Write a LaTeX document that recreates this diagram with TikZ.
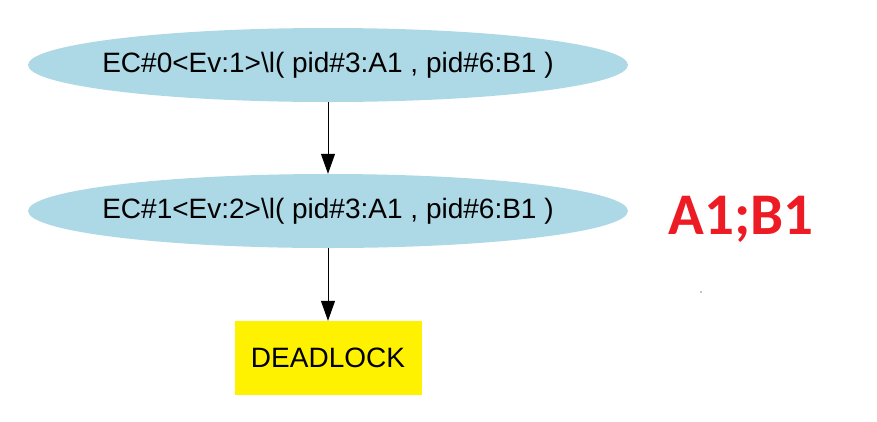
\documentclass[tikz,border=0pt]{standalone}
\usepackage{fontspec}
\setmainfont{Liberation Sans}
\newfontfamily\carlito{Carlito}
\usetikzlibrary{shapes.geometric,arrows.meta}
\definecolor{ecblue}{HTML}{ADD8E6}
\definecolor{lblred}{HTML}{ED1C24}
\tikzset{
  ecnode/.style={ellipse, fill=ecblue, minimum width=600pt, minimum height=74pt, inner sep=0pt, label={[font=\fontsize{28}{32}\selectfont]center:#1}},
  dlnode/.style={rectangle, fill=yellow, minimum width=187pt, minimum height=74pt, inner sep=0pt, font=\fontsize{28}{32}\selectfont},
  edge/.style={draw=black, line width=1pt, -{Triangle[length=20pt,width=14pt]}}
}
\begin{document}
\begin{tikzpicture}[x=1pt,y=-1pt]
\useasboundingbox (0,0) rectangle (877,421);
\node[ecnode={EC\#0<Ev:1>\textbackslash l( pid\#3:A1 , pid\#6:B1 )}] (ec0) at (328,65) {};
\node[ecnode={EC\#1<Ev:2>\textbackslash l( pid\#3:A1 , pid\#6:B1 )}] (ec1) at (328,211) {};
\node[dlnode] (dl) at (328,358) {DEADLOCK};
\draw[edge] (ec0) -- (ec1);
\draw[edge] (ec1) -- (dl);
\node[text=lblred, font=\carlito\bfseries\fontsize{59}{64}\selectfont] (lbl) at (741,219) {A1;B1};
\fill (701,292) circle (0.7pt);
\end{tikzpicture}
\end{document}
